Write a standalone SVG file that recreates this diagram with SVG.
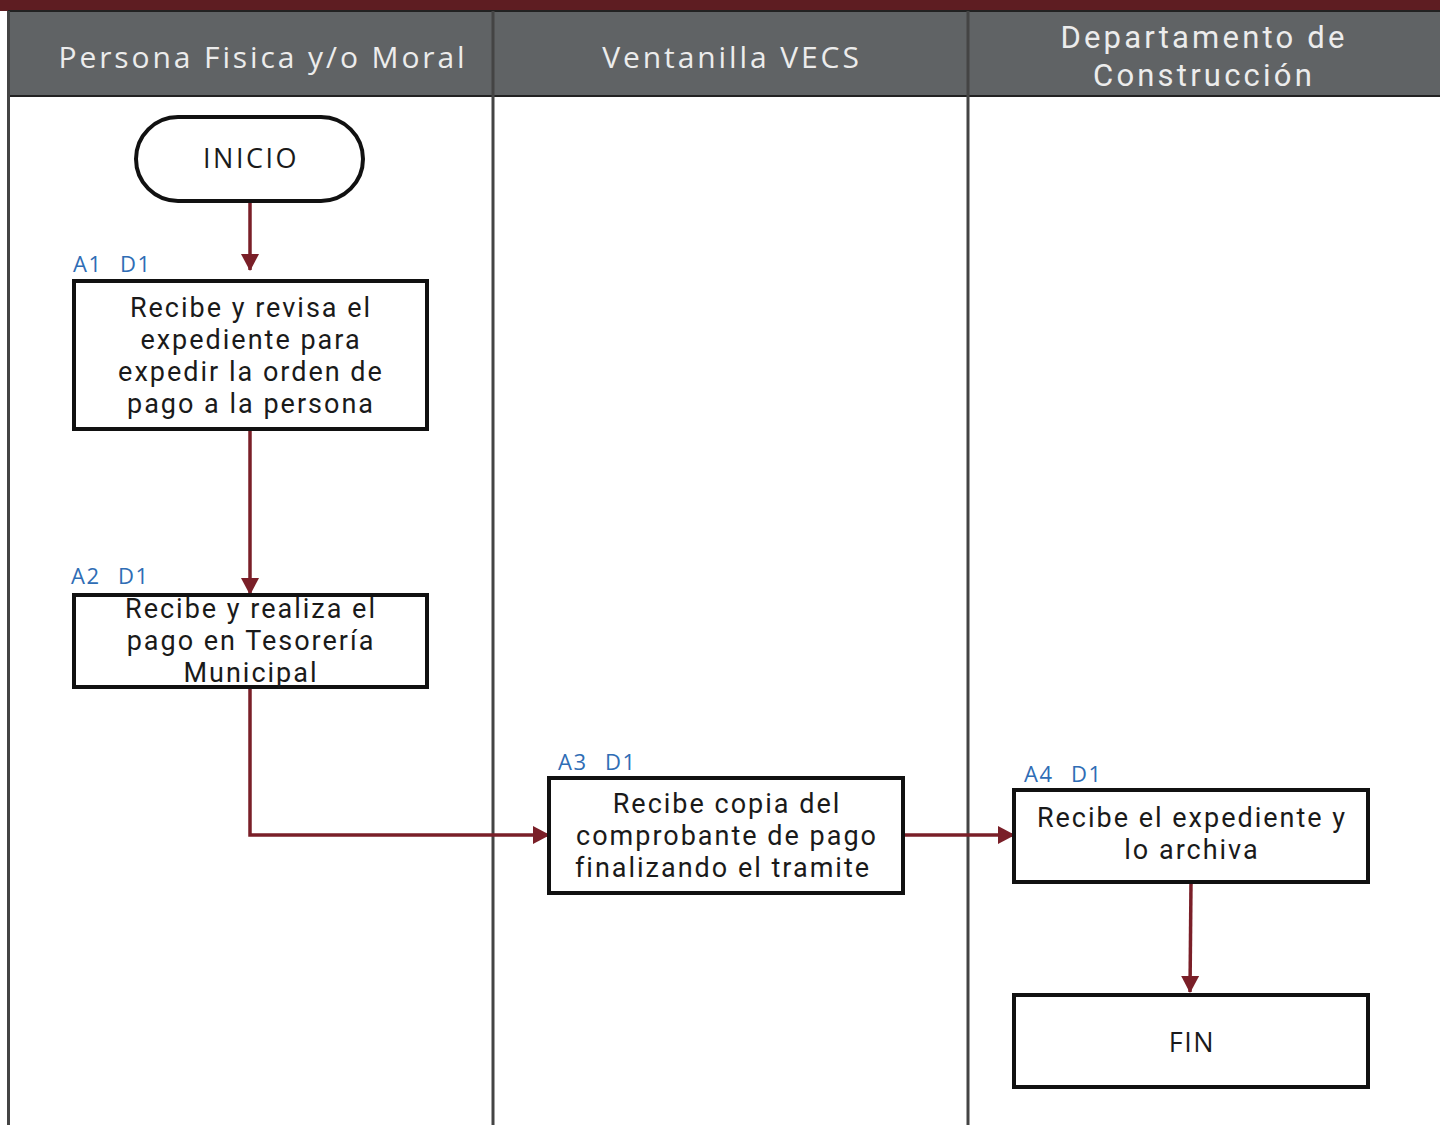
<svg xmlns="http://www.w3.org/2000/svg" width="1440" height="1125" viewBox="0 0 1440 1125">
<style>
.hdr{font-family:"Open Sans","Liberation Sans",sans-serif;font-size:30px;fill:#ececec;text-anchor:middle;letter-spacing:2.9px}
.hdr2{font-family:Roboto,"Liberation Sans",sans-serif;font-size:31px;fill:#ececec;text-anchor:middle;letter-spacing:3.2px}
.box{fill:#fff;stroke:#111;stroke-width:4}
.t{font-family:Roboto,"Liberation Sans",sans-serif;font-size:27px;fill:#1a1a1a;text-anchor:middle;letter-spacing:2px}
.t1{font-family:"Open Sans","Liberation Sans",sans-serif;font-size:27px;fill:#1a1a1a;text-anchor:middle;letter-spacing:1.5px}
.lbl{font-family:"Open Sans","Liberation Sans",sans-serif;font-size:22px;fill:#2f6db5;letter-spacing:1.5px}
.c{fill:none;stroke:#7a1f28;stroke-width:3.5}
.lane{stroke:#444;stroke-width:3}
</style>
<defs>
<marker id="arr" markerWidth="18" markerHeight="20" refX="16" refY="10" orient="auto" markerUnits="userSpaceOnUse">
<path d="M0,1 L17,10 L0,19 Z" fill="#7a1f28"/>
</marker>
</defs>
<rect x="0" y="0" width="1440" height="1125" fill="#fff"/>
<g id="lanes">
<rect x="0" y="0" width="1440" height="11" fill="#5e1d22"/>
<rect x="8" y="11" width="1432" height="85" fill="#606365"/>
<line x1="8" y1="96" x2="1440" y2="96" stroke="#222" stroke-width="2"/>
<line x1="8" y1="11" x2="1440" y2="11" stroke="#222" stroke-width="2"/>
<line class="lane" x1="8.5" y1="11" x2="8.5" y2="1125" stroke="#111"/>
<line class="lane" x1="493" y1="11" x2="493" y2="1125"/>
<line class="lane" x1="968" y1="11" x2="968" y2="1125"/>
<text class="hdr" x="263" y="68">Persona Fisica y/o Moral</text>
<text class="hdr" x="732" y="68">Ventanilla VECS</text>
<text class="hdr2" x="1204" y="48"><tspan x="1204">Departamento de</tspan><tspan x="1204" dy="38">Construcción</tspan></text>
</g>
<g id="connectors">
<path class="c" d="M250,201 V270" marker-end="url(#arr)"/>
<path class="c" d="M250,429 V594" marker-end="url(#arr)"/>
<path class="c" d="M250,687 V835 H549" marker-end="url(#arr)"/>
<path class="c" d="M903,835 H1014" marker-end="url(#arr)"/>
<path class="c" d="M1191,882 L1190,992" marker-end="url(#arr)"/>
</g>
<g id="inicio">
<rect class="box" x="136" y="117" width="227" height="84" rx="42" ry="42"/>
<text class="t1" x="251" y="168" style="letter-spacing:2.5px">INICIO</text>
</g>
<g id="a1">
<text class="lbl" y="272"><tspan x="73">A1</tspan><tspan x="120">D1</tspan></text>
<rect class="box" x="74" y="281" width="353" height="148"/>
<text class="t" y="317"><tspan x="251">Recibe y revisa el</tspan><tspan x="251" dy="32">expediente para</tspan><tspan x="251" dy="32">expedir la orden de</tspan><tspan x="251" dy="32">pago a la persona</tspan></text>
</g>
<g id="a2">
<text class="lbl" y="584"><tspan x="71">A2</tspan><tspan x="118">D1</tspan></text>
<rect class="box" x="74" y="595" width="353" height="92"/>
<text class="t" y="618"><tspan x="251">Recibe y realiza el</tspan><tspan x="251" dy="32">pago en Tesorería</tspan><tspan x="251" dy="32">Municipal</tspan></text>
</g>
<g id="a3">
<text class="lbl" y="770"><tspan x="558">A3</tspan><tspan x="605">D1</tspan></text>
<rect class="box" x="549" y="778" width="354" height="115"/>
<text class="t" y="813"><tspan x="727">Recibe copia del</tspan><tspan x="727" dy="32">comprobante de pago</tspan><tspan x="723" dy="32">finalizando el tramite</tspan></text>
</g>
<g id="a4">
<text class="lbl" y="782"><tspan x="1024">A4</tspan><tspan x="1071">D1</tspan></text>
<rect class="box" x="1014" y="790" width="354" height="92"/>
<text class="t" y="827"><tspan x="1192">Recibe el expediente y</tspan><tspan x="1192" dy="32">lo archiva</tspan></text>
</g>
<g id="fin">
<rect class="box" x="1014" y="995" width="354" height="92"/>
<text class="t1" x="1192" y="1052">FIN</text>
</g>
</svg>
